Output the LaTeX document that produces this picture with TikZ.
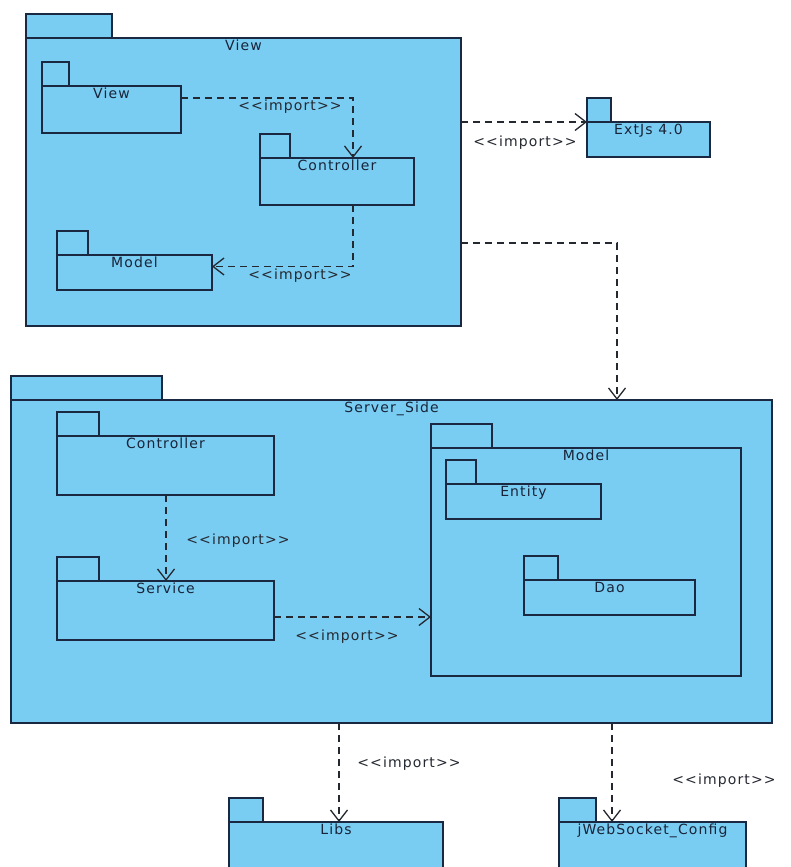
\documentclass[tikz,border=0pt]{standalone}
\usepackage{fontspec}
\setmainfont{DejaVu Sans}[Ligatures=TeXOff,LetterSpace=8]
\usetikzlibrary{arrows.meta,calc}
\definecolor{pkgfill}{RGB}{122,205,242}
\definecolor{pkgedge}{RGB}{27,40,66}
\definecolor{txtc}{RGB}{24,36,58}
\definecolor{arrc}{RGB}{36,40,48}
\tikzset{
  pkgbody/.style={draw=pkgedge,fill=pkgfill,line width=1.6pt,inner sep=0pt,outer sep=0pt},
  ptitle/.style={text=txtc,font=\fontsize{14}{16}\selectfont,inner sep=1pt},
  dep/.style={draw=arrc,line width=1.4pt,dash pattern=on 7pt off 5pt,
     -{Straight Barb[length=11pt,width=17pt,line width=1.3pt]}},
  implabel/.style={text=arrc,font=\fontsize{14}{16}\selectfont,inner sep=1pt}
}
% name, x1, y1, x2, y2, tab width, title
\newcommand\pkgbox[7]{%
  \draw[pkgbody] (#2,#3-24) rectangle (#2+#6,#3);
  \node[pkgbody,anchor=north west,minimum width={#4pt-#2pt},minimum height={#5pt-#3pt}] (#1) at (#2,#3) {};
  \node[ptitle,anchor=north] (#1-t) at ([yshift=-1pt]#1.north) {#7};
}
\begin{document}
\begin{tikzpicture}[x=1pt,y=-1pt]
\useasboundingbox (0,0) rectangle (790,867);
\clip (0,0) rectangle (790,867);
% View package
\pkgbox{view}{26}{38}{461}{326}{86}{View}
\pkgbox{vview}{42}{86}{181}{133}{27}{View}
\pkgbox{vctrl}{260}{158}{414}{205}{30}{Controller}
\pkgbox{vmodel}{57}{255}{212}{290}{31}{Model}
% ExtJs
\pkgbox{ext}{587}{122}{710}{157}{24}{ExtJs 4.0}
% Server side
\pkgbox{server}{11}{400}{772}{723}{151}{Server\_Side}
\pkgbox{sctrl}{57}{436}{274}{495}{42}{Controller}
\pkgbox{sserv}{57}{581}{274}{640}{42}{Service}
\pkgbox{smodel}{431}{448}{741}{676}{61}{Model}
\pkgbox{sent}{446}{484}{601}{519}{30}{Entity}
\pkgbox{sdao}{524}{580}{695}{615}{34}{Dao}
% bottom
\pkgbox{libs}{229}{822}{443}{880}{34}{Libs}
\pkgbox{jws}{559}{822}{746}{880}{37}{jWebSocket\_Config}
% dependencies
\draw[dep] (vview.east |- 0,98) -| ([xshift=16pt]vctrl.north);
\node[implabel] (l1) at (290,107) {<<import>>};
\draw[dep] ([xshift=16pt]vctrl.south) |- ([yshift=6pt]vmodel.east);
\node[implabel] (l2) at (300,276) {<<import>>};
\draw[dep] (view.east |- ext.north west) -- (ext.north west);
\node[implabel] (l3) at (525,143) {<<import>>};
\draw[dep] (view.east |- 0,243) -| (server.north -| 617,0);
\draw[dep] ([xshift=0.5pt]sctrl.south) -- ([xshift=0.5pt]sserv.north);
\node[implabel] (l4) at (238,541) {<<import>>};
\draw[dep] (sserv.east |- 0,617) -- (smodel.west |- 0,617);
\node[implabel] (l5) at (347,637) {<<import>>};
\draw[dep] (server.south -| 339,0) -- (libs.north -| 339,0);
\node[implabel] (l6) at (409,764) {<<import>>};
\draw[dep] (server.south -| 612,0) -- (jws.north -| 612,0);
\node[implabel] (l7) at (724,781) {<<import>>};
\end{tikzpicture}
\end{document}
